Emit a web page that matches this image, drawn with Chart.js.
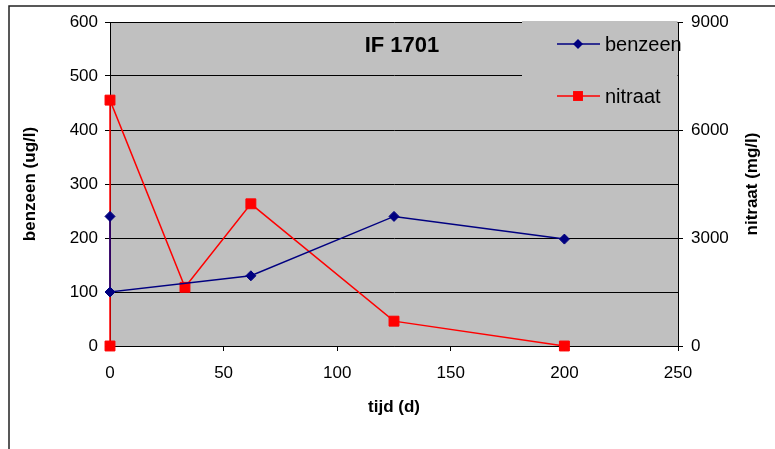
<!DOCTYPE html>
<html>
<head>
<meta charset="utf-8">
<script src="https://cdn.jsdelivr.net/npm/chart.js@4.4.1/dist/chart.umd.min.js"></script>
<style>
  html, body { margin: 0; padding: 0; background: #fff; }
  canvas { display: block; }
</style>
</head>
<body>
<canvas id="myChart" width="775" height="449"></canvas>
<script>
// meetpunt IF 1701: benzeen (ug/l) en nitraat (mg/l) tegen de tijd (d)
const chartTitle = 'IF 1701';
const benzeenDays = [0, 0, 62, 125, 200];
const benzeenValues = [240, 100, 130, 240, 198];
const nitraatDays = [0, 0, 33, 62, 125, 200];
const nitraatValues = [0, 6830, 1630, 3950, 690, 0];
const xTicks = [0, 50, 100, 150, 200, 250];
const benzeenTicks = [0, 100, 200, 300, 400, 500, 600];
const nitraatTicks = [0, 3000, 6000, 9000];

const FONT = "'Liberation Sans', Arial, sans-serif";

const toPoints = (xs, ys) => xs.map((x, i) => ({x: x, y: ys[i]}));

(function () {
    const data = {
        datasets: [
            {
                label: 'benzeen',
                data: toPoints(benzeenDays, benzeenValues),
                yAxisID: 'y',
                borderColor: '#000080',
                backgroundColor: '#000080',
                borderWidth: 1.5,
                pointStyle: 'rectRot',
                pointRadius: 5,
                pointBorderWidth: 1,
                clip: false
            },
            {
                label: 'nitraat',
                data: toPoints(nitraatDays, nitraatValues),
                yAxisID: 'y2',
                borderColor: '#ff0000',
                backgroundColor: '#ff0000',
                borderWidth: 1.5,
                pointStyle: 'rect',
                pointRadius: 7,
                pointBorderWidth: 1,
                clip: false
            }
        ]
    };

    // white page, frame lines, titles and the legend box
    const excelLook = {
        id: 'excelLook',
        beforeDraw(chart) {
            const {ctx, width, height, chartArea: {top, bottom, left, right}} = chart;
            ctx.save();
            ctx.fillStyle = '#fff';
            ctx.fillRect(0, 0, width, height);
            ctx.strokeStyle = '#222';
            ctx.lineWidth = 1.5;
            ctx.beginPath();
            ctx.moveTo(width, 6);
            ctx.lineTo(9, 6);
            ctx.lineTo(9, height);
            ctx.stroke();
            // plot area
            ctx.fillStyle = '#c0c0c0';
            ctx.fillRect(left, top, right - left, bottom - top);
            ctx.restore();
        },
        afterDraw(chart) {
            const {ctx, chartArea: {top, bottom, left, right}} = chart;
            const mid = (top + bottom) / 2;
            ctx.save();
            ctx.fillStyle = '#000';
            ctx.textAlign = 'center';
            ctx.textBaseline = 'middle';

            // axis titles
            ctx.font = 'bold 17px ' + FONT;
            ctx.fillText('tijd (d)', (left + right) / 2, bottom + 61);
            ctx.save();
            ctx.translate(left - 80, mid);
            ctx.rotate(-Math.PI / 2);
            ctx.fillText('benzeen (ug/l)', 0, 0);
            ctx.restore();
            ctx.save();
            ctx.translate(right + 74, mid);
            ctx.rotate(-Math.PI / 2);
            ctx.fillText('nitraat (mg/l)', 0, 0);
            ctx.restore();

            // legend box
            const boxLeft = 522;
            ctx.fillStyle = '#c0c0c0';
            ctx.fillRect(boxLeft, top - 1, right - 0.5 - boxLeft, 98);
            ctx.textAlign = 'left';
            ctx.font = '20px ' + FONT;
            const rows = [top + 22, top + 74];
            chart.data.datasets.forEach((ds, i) => {
                const y = rows[i];
                ctx.strokeStyle = ds.borderColor;
                ctx.lineWidth = 1.5;
                ctx.beginPath();
                ctx.moveTo(557, y);
                ctx.lineTo(600, y);
                ctx.stroke();
                ctx.fillStyle = ds.backgroundColor;
                Chart.helpers.drawPoint(ctx, {pointStyle: ds.pointStyle, radius: ds.pointRadius, rotation: 0}, 578, y);
                ctx.fillStyle = '#000';
                ctx.fillText(ds.label, 605, y + 1);
            });

            // chart title
            ctx.textAlign = 'center';
            ctx.font = 'bold 22px ' + FONT;
            ctx.fillText(chartTitle, 402, top + 24);
            ctx.restore();
        }
    };

    const tickFont = {family: FONT, size: 17};
    const plain = (v) => String(v);

    const config = {
        type: 'line',
        data,
        options: {
            responsive: false,
            animation: false,
            devicePixelRatio: 1,
            layout: {padding: {top: 22, left: 0, right: 0, bottom: 0}},
            plugins: {
                legend: {display: false},
                tooltip: {enabled: false}
            },
            scales: {
                x: {
                    type: 'linear',
                    min: 0,
                    max: 250,
                    afterBuildTicks: (s) => { s.ticks = xTicks.map(v => ({value: v})); },
                    afterFit: (s) => { s.height = 103; },
                    grid: {drawOnChartArea: false, color: '#000', tickLength: 5, tickWidth: 1},
                    border: {display: true, color: '#000', width: 1},
                    ticks: {font: tickFont, color: '#000', padding: 12, maxRotation: 0, callback: plain}
                },
                y: {
                    position: 'left',
                    min: 0,
                    max: 600,
                    afterBuildTicks: (s) => { s.ticks = benzeenTicks.map(v => ({value: v})); },
                    afterFit: (s) => { s.width = 110; },
                    grid: {color: '#000', lineWidth: 1, tickLength: 5},
                    border: {display: true, color: '#000', width: 1},
                    ticks: {font: tickFont, color: '#000', padding: 7, callback: plain}
                },
                y2: {
                    position: 'right',
                    min: 0,
                    max: 9000,
                    afterBuildTicks: (s) => { s.ticks = nitraatTicks.map(v => ({value: v})); },
                    afterFit: (s) => { s.width = 97; },
                    grid: {drawOnChartArea: false, color: '#000', tickLength: 5},
                    border: {display: true, color: '#000', width: 1},
                    ticks: {font: tickFont, color: '#000', padding: 8, callback: plain}
                }
            }
        },
        plugins: [excelLook]
    };

    new Chart(document.getElementById('myChart'), config);
})();
</script>
</body>
</html>
